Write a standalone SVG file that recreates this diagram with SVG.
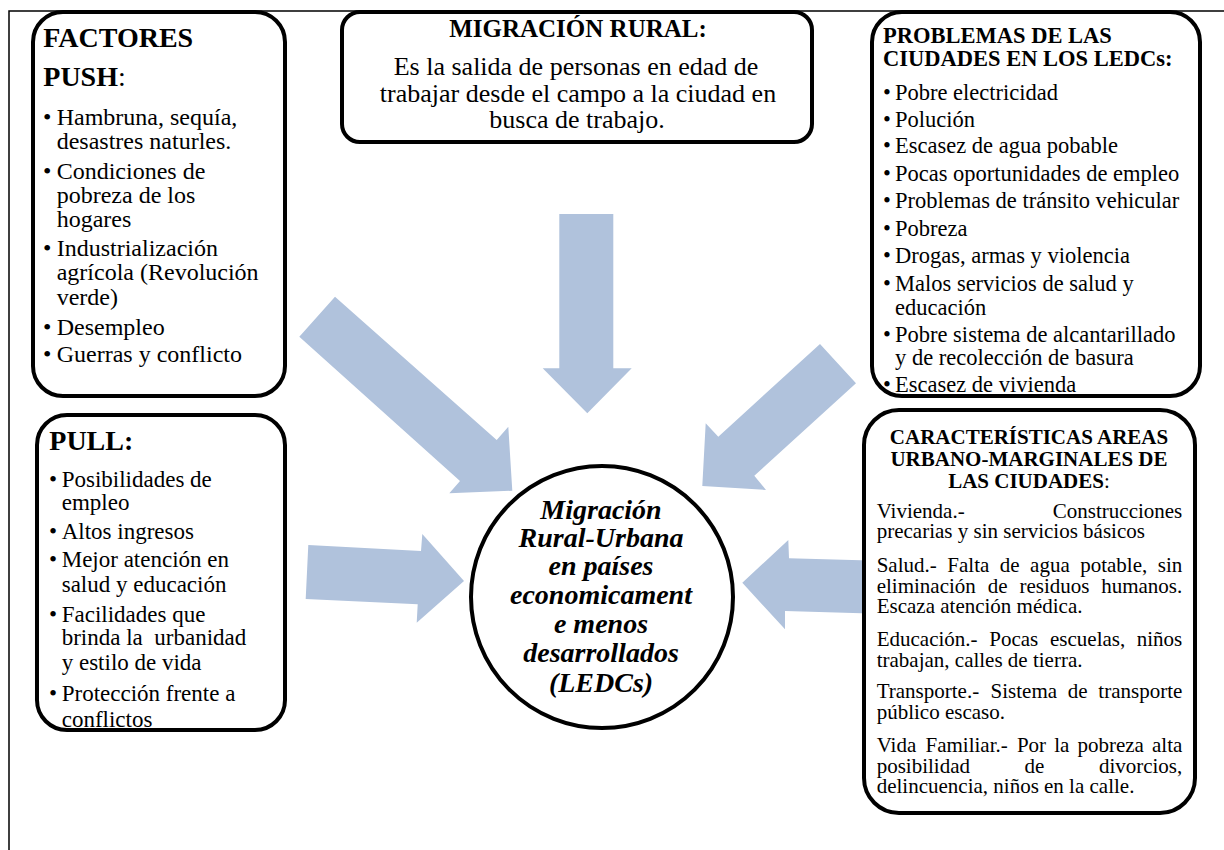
<svg xmlns="http://www.w3.org/2000/svg" width="1224" height="850" viewBox="0 0 1224 850">
<style>
  text { font-family: "Liberation Serif", "Times New Roman", serif; fill: #000; }
  .box { fill: #fff; stroke: #000; stroke-width: 4; }
  .arrow { fill: #B0C2DC; stroke: none; }
  .frame { fill: none; stroke: #000; stroke-width: 1.5; }
  .b { font-weight: bold; }
  .f24 { font-size: 24px; }
  .f23 { font-size: 23px; }
  .f22 { font-size: 22.5px; }
  .f21 { font-size: 21px; }
  .ctr { font-size: 28px; font-weight: bold; font-style: italic; text-anchor: middle; }
</style>
<rect width="1224" height="850" fill="#fff"/>
<polyline class="frame" points="9,850 9,11 1224,11"/>

<g id="connectors">
  <polygon class="arrow" points="335,296.7 496.7,440 508.3,426.7 512.3,490.7 449.3,493.3 460,481 299.3,336.7"/>
  <polygon class="arrow" points="559.3,214 613.3,214 613.3,368.3 631.7,368.3 587.3,413.3 542.7,368.3 559.3,368.3"/>
  <polygon class="arrow" points="820,344 856,383.3 754.3,475.7 766,490 702.3,486 705.7,423.3 718.3,436.7"/>
  <polygon class="arrow" points="308.3,545 421,551 422.3,534 464,581 416.7,622.7 417.7,604.3 305.7,599"/>
  <polygon class="arrow" points="870,560.5 870,613.5 785,611 785,629.3 742.3,582.7 788.3,540 789,558.3"/>
</g>

<g id="push">
  <rect class="box" x="33" y="12" width="252" height="384" rx="30" ry="30"/>
  <text class="b" x="43.3" y="46.7" font-size="28">FACTORES</text>
  <text x="43.3" y="86" font-size="28"><tspan class="b">PUSH</tspan>:</text>
  <g class="f24">
    <text x="43" y="125">•</text><text x="56.7" y="125">Hambruna, sequía,</text>
    <text x="56.7" y="149">desastres naturles.</text>
    <text x="43" y="179">•</text><text x="56.7" y="179">Condiciones de</text>
    <text x="56.7" y="203">pobreza de los</text>
    <text x="56.7" y="227">hogares</text>
    <text x="43" y="256">•</text><text x="56.7" y="256">Industrialización</text>
    <text x="56.7" y="280">agrícola (Revolución</text>
    <text x="56.7" y="305">verde)</text>
    <text x="43" y="335">•</text><text x="56.7" y="335">Desempleo</text>
    <text x="43" y="362">•</text><text x="56.7" y="362">Guerras y conflicto</text>
  </g>
</g>

<g id="migracion-rural">
  <rect class="box" x="342" y="12" width="470" height="130" rx="18" ry="18"/>
  <text class="b" x="578" y="37" font-size="25" text-anchor="middle">MIGRACIÓN RURAL:</text>
  <g font-size="26" text-anchor="middle">
    <text x="576" y="75">Es la salida de personas en edad de</text>
    <text x="578" y="102">trabajar desde el campo a la ciudad en</text>
    <text x="577" y="128">busca de trabajo.</text>
  </g>
</g>

<g id="problemas">
  <rect class="box" x="872" y="12" width="328" height="384" rx="30" ry="30"/>
  <text class="b f22" x="883" y="43.3">PROBLEMAS DE LAS</text>
  <text class="b f22" x="883" y="66">CIUDADES EN LOS LEDCs:</text>
  <g class="f22">
    <text x="883" y="100">•</text><text x="895" y="100">Pobre electricidad</text>
    <text x="883" y="126.7">•</text><text x="895" y="126.7">Polución</text>
    <text x="883" y="153">•</text><text x="895" y="153">Escasez de agua pobable</text>
    <text x="883" y="181">•</text><text x="895" y="181">Pocas oportunidades de empleo</text>
    <text x="883" y="208">•</text><text x="895" y="208">Problemas de tránsito vehicular</text>
    <text x="883" y="236">•</text><text x="895" y="236">Pobreza</text>
    <text x="883" y="263">•</text><text x="895" y="263">Drogas, armas y violencia</text>
    <text x="883" y="291">•</text><text x="895" y="291">Malos servicios de salud y</text>
    <text x="895" y="315">educación</text>
    <text x="883" y="342">•</text><text x="895" y="342">Pobre sistema de alcantarillado</text>
    <text x="895" y="365">y de recolección de basura</text>
    <text x="883" y="392">•</text><text x="895" y="392">Escasez de vivienda</text>
  </g>
</g>

<g id="pull">
  <rect class="box" x="37" y="415" width="248" height="315" rx="30" ry="30"/>
  <text class="b" x="49.3" y="450" font-size="28">PULL:</text>
  <g class="f23">
    <text x="49" y="487">•</text><text x="61.7" y="487">Posibilidades de</text>
    <text x="61.7" y="510">empleo</text>
    <text x="49" y="539">•</text><text x="61.7" y="539">Altos ingresos</text>
    <text x="49" y="567">•</text><text x="61.7" y="567">Mejor atención en</text>
    <text x="61.7" y="592">salud y educación</text>
    <text x="49" y="622">•</text><text x="61.7" y="622">Facilidades que</text>
    <text x="61.7" y="645">brinda la&#160; urbanidad</text>
    <text x="61.7" y="670">y estilo de vida</text>
    <text x="49" y="701">•</text><text x="61.7" y="701">Protección frente a</text>
    <text x="61.7" y="727">conflictos</text>
  </g>
</g>

<g id="caracteristicas">
  <rect class="box" x="864" y="410" width="331" height="403" rx="35" ry="35"/>
  <g class="f21" text-anchor="middle">
    <text class="b" x="1029" y="444">CARACTERÍSTICAS AREAS</text>
    <text class="b" x="1029" y="465.7">URBANO-MARGINALES DE</text>
    <text x="1029" y="488"><tspan class="b">LAS CIUDADES</tspan>:</text>
  </g>
  <g class="f21">
    <text x="876.7" y="518.3">Vivienda.-</text>
    <text x="1182.3" y="518.3" text-anchor="end">Construcciones</text>
    <text x="876.7" y="538.3">precarias y sin servicios básicos</text>

    <text y="571.7"><tspan x="876.7">Salud.-</tspan><tspan x="947.3">Falta</tspan><tspan x="999.8">de</tspan><tspan x="1030.1">agua</tspan><tspan x="1080.2">potable,</tspan></text>
    <text x="1182.3" y="571.7" text-anchor="end">sin</text>
    <text y="592.7"><tspan x="876.7">eliminación</tspan><tspan x="987.7">de</tspan><tspan x="1019.4">residuos</tspan></text>
    <text x="1182.3" y="592.7" text-anchor="end">humanos.</text>
    <text x="876.7" y="613.3">Escaza atención médica.</text>

    <text y="646"><tspan x="876.7">Educación.-</tspan><tspan x="989.3">Pocas</tspan><tspan x="1050">escuelas,</tspan></text>
    <text x="1182.3" y="646" text-anchor="end">niños</text>
    <text x="876.7" y="666.7">trabajan, calles de tierra.</text>

    <text y="698.3"><tspan x="876.7">Transporte.-</tspan><tspan x="990.6">Sistema</tspan><tspan x="1067.8">de</tspan></text>
    <text x="1182.3" y="698.3" text-anchor="end">transporte</text>
    <text x="876.7" y="719.3">público escaso.</text>

    <text y="751.7"><tspan x="876.7">Vida</tspan><tspan x="925.5">Familiar.-</tspan><tspan x="1016.9">Por</tspan><tspan x="1054.2">la</tspan><tspan x="1077.4">pobreza</tspan></text>
    <text x="1182.3" y="751.7" text-anchor="end">alta</text>
    <text y="772.7"><tspan x="876.7">posibilidad</tspan><tspan x="1024.5">de</tspan></text>
    <text x="1182.3" y="772.7" text-anchor="end">divorcios,</text>
    <text x="876.7" y="793.3">delincuencia, niños en la calle.</text>
  </g>
</g>

<g id="centro">
  <circle class="box" cx="602" cy="597" r="131"/>
  <text class="ctr" x="601" y="519.3">Migración</text>
  <text class="ctr" x="601" y="547.3">Rural-Urbana</text>
  <text class="ctr" x="601" y="575">en países</text>
  <text class="ctr" x="601" y="604">economicament</text>
  <text class="ctr" x="601" y="633.3">e menos</text>
  <text class="ctr" x="601" y="662.3">desarrollados</text>
  <text class="ctr" x="601" y="691.7">(LEDCs)</text>
</g>
</svg>
